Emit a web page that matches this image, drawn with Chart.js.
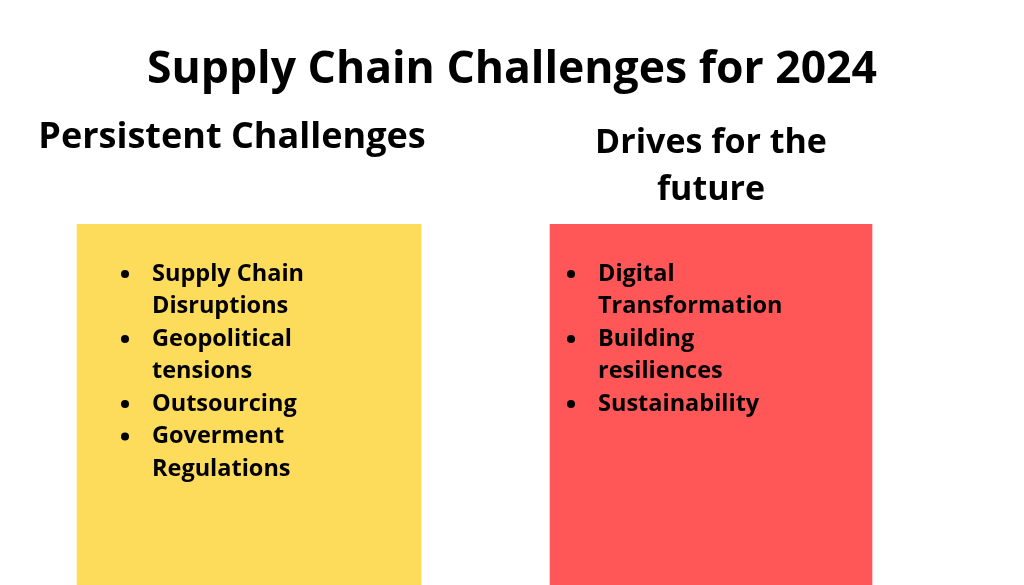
<!DOCTYPE html>
<html><head><meta charset="utf-8">
<script src="https://cdn.jsdelivr.net/npm/chart.js@4"></script>
<style>html,body{margin:0;padding:0;background:#fff}#wrap{width:1024px;height:585px}</style>
</head><body><div id="wrap"><canvas id="c" width="1024" height="585"></canvas></div>
<script>
const title = "Supply Chain Challenges for 2024";
const columns = ["Persistent Challenges", "Drives for the\nfuture"];
const columnCenters = [249, 711];
const leftItems = [["Supply Chain","Disruptions"],["Geopolitical","tensions"],["Outsourcing"],["Goverment","Regulations"]];
const rightItems = [["Digital","Transformation"],["Building","resiliences"],["Sustainability"]];
const boxSpan = [0, 1];

const textPlugin = {
  id: 'texts',
  afterDraw(chart) {
    const ctx = chart.ctx;
    ctx.save();
    ctx.fillStyle = '#000';
    ctx.textBaseline = 'middle';
    ctx.textAlign = 'center';
    ctx.font = 'bold 44.5px "Open Sans"';
    ctx.fillText(title, 512, 70);
    ctx.font = 'bold 36px "Open Sans"';
    ctx.fillText(columns[0], 232, 138);
    const rl = columns[1].split("\n");
    ctx.font = 'bold 34px "Open Sans"';
    ctx.fillText(rl[0], 711, 143);
    ctx.fillText(rl[1], 711, 190);
    ctx.textAlign = 'left';
    ctx.font = 'bold 23.5px "Open Sans"';
    function list(items, dotX, textX) {
      let y = 274;
      items.forEach(it => {
        ctx.beginPath(); ctx.arc(dotX, y, 4, 0, Math.PI*2); ctx.fill();
        it.forEach(line => { ctx.fillText(line, textX, y); y += 32.5; });
      });
    }
    list(leftItems, 125, 152);
    list(rightItems, 571, 598);
    ctx.restore();
  }
};

new Chart(document.getElementById('c'), {
  type: 'bar',
  data: {
    datasets: [
      {data: [{x: columnCenters[0], y: boxSpan}], backgroundColor: '#fddc5c', barThickness: 344, grouped: false},
      {data: [{x: columnCenters[1], y: boxSpan}], backgroundColor: '#ff5757', barThickness: 322, grouped: false}
    ]
  },
  options: {
    responsive: false, animation: false,
    layout: {padding: {top: 224, left: 0, right: 0, bottom: 0}},
    plugins: {legend: {display: false}, tooltip: {enabled: false}},
    scales: {
      x: {type: 'linear', min: 0, max: 1024, offset: false, display: false},
      y: {min: 0, max: 1, display: false}
    }
  },
  plugins: [textPlugin]
});
</script></body></html>
